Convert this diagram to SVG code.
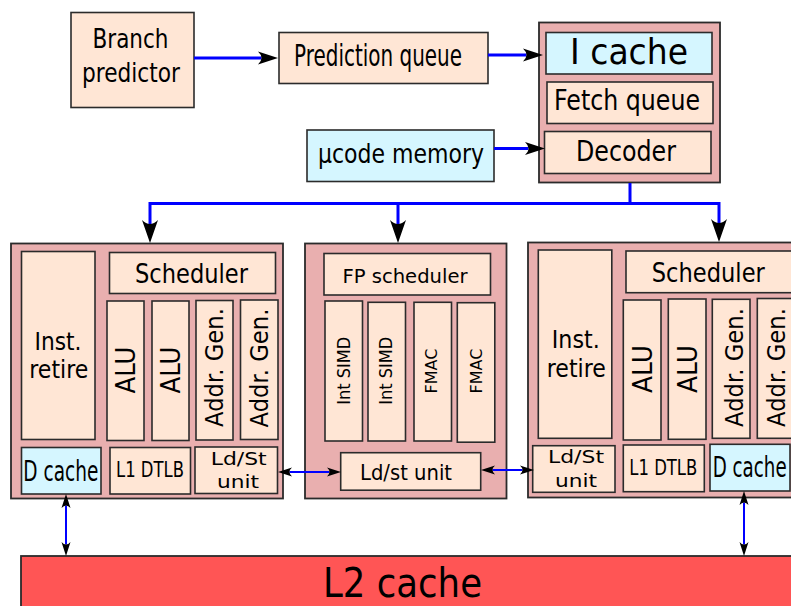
<svg xmlns="http://www.w3.org/2000/svg" width="791" height="606" viewBox="0 0 791 606">
<style>
text{font-family:"DejaVu Sans","Liberation Sans",sans-serif;fill:#000;text-anchor:middle}
.o{fill:#e9afaf;stroke:#2b2b2b;stroke-width:1.8}
.p{fill:#ffe6d5;stroke:#2b2b2b;stroke-width:1.6}
.c{fill:#d5f6ff;stroke:#2b2b2b;stroke-width:1.6}
.l2{fill:#ff5555;stroke:#2b2b2b;stroke-width:1.8}
.w{fill:none;stroke:#0000ff;stroke-width:3}
.t{fill:none;stroke:#0000ff;stroke-width:2}
</style>
<defs>
<marker id="ah" markerUnits="userSpaceOnUse" viewBox="0 -7 21 14" markerWidth="21" markerHeight="14" refX="3.5" refY="0" orient="auto" overflow="visible"><path d="M0,-6.5 L20,0 L0,6.5 Q7,0 0,-6.5 Z" fill="#000"/></marker>
<marker id="av" markerUnits="userSpaceOnUse" viewBox="0 -8 24 16" markerWidth="24" markerHeight="16" refX="4" refY="0" orient="auto" overflow="visible"><path d="M0,-8 L23,0 L0,8 Q8,0 0,-8 Z" fill="#000"/></marker>
<marker id="as" markerUnits="userSpaceOnUse" viewBox="0 -5 15 10" markerWidth="15" markerHeight="10" refX="2.5" refY="0" orient="auto-start-reverse" overflow="visible"><path d="M0,-4.5 L14,0 L0,4.5 Q5,0 0,-4.5 Z" fill="#000"/></marker>
</defs>

<g id="branch-predictor">
<rect class="p" x="71" y="12.5" width="123" height="95"/>
<text x="130.5" y="48" font-size="27" textLength="76" lengthAdjust="spacingAndGlyphs">Branch</text>
<text x="131" y="82" font-size="27" textLength="98" lengthAdjust="spacingAndGlyphs">predictor</text>
</g>
<g id="prediction-queue">
<rect class="p" x="279" y="32.5" width="209" height="51"/>
<text x="378" y="66" font-size="30" textLength="168" lengthAdjust="spacingAndGlyphs">Prediction queue</text>
</g>
<g id="ucode-memory">
<rect class="c" x="307" y="130" width="187" height="51.5"/>
<text x="401" y="163" font-size="27" textLength="166" lengthAdjust="spacingAndGlyphs">µcode memory</text>
</g>
<g id="frontend">
<rect class="o" x="539" y="22.5" width="181" height="160"/>
<g id="i-cache">
<rect class="c" x="546" y="32.5" width="166" height="41.5"/>
<text x="629" y="64" font-size="36" textLength="118" lengthAdjust="spacingAndGlyphs">I cache</text>
</g>
<g id="fetch-queue">
<rect class="p" x="547" y="82" width="166" height="41.5"/>
<text x="627" y="110" font-size="28" textLength="146" lengthAdjust="spacingAndGlyphs">Fetch queue</text>
</g>
<g id="decoder">
<rect class="p" x="544.5" y="131.5" width="166.5" height="42"/>
<text x="626" y="161" font-size="29" textLength="100" lengthAdjust="spacingAndGlyphs">Decoder</text>
</g>
</g>

<g id="int-cluster-left">
<rect class="o" x="11" y="243.5" width="272" height="255"/>
<g id="inst-retire-left"><rect class="p" x="21.5" y="251.5" width="73.5" height="188"/>
<text x="58" y="350" font-size="25" textLength="47" lengthAdjust="spacingAndGlyphs">Inst.</text>
<text x="58.8" y="378" font-size="25" textLength="59" lengthAdjust="spacingAndGlyphs">retire</text></g>
<g id="scheduler-left"><rect class="p" x="109.5" y="252.5" width="166" height="41"/>
<text x="191.5" y="283" font-size="27" textLength="113" lengthAdjust="spacingAndGlyphs">Scheduler</text></g>
<g id="alu1-left"><rect class="p" x="107" y="301" width="37" height="139.5"/>
<text transform="translate(135,370) rotate(-90)" font-size="27" textLength="47" lengthAdjust="spacingAndGlyphs">ALU</text></g>
<g id="alu2-left"><rect class="p" x="152" y="301" width="37" height="139.5"/>
<text transform="translate(180,370) rotate(-90)" font-size="27" textLength="47" lengthAdjust="spacingAndGlyphs">ALU</text></g>
<g id="agu1-left"><rect class="p" x="196" y="300.5" width="37" height="139.5"/>
<text transform="translate(223,367.5) rotate(-90)" font-size="25" textLength="119" lengthAdjust="spacingAndGlyphs">Addr. Gen.</text></g>
<g id="agu2-left"><rect class="p" x="240.5" y="300" width="37.5" height="139.5"/>
<text transform="translate(268,368) rotate(-90)" font-size="25" textLength="119" lengthAdjust="spacingAndGlyphs">Addr. Gen.</text></g>
<g id="dcache-left"><rect class="c" x="21.5" y="447.5" width="79.5" height="46.5"/>
<text x="60.8" y="480.5" font-size="28" textLength="75" lengthAdjust="spacingAndGlyphs">D cache</text></g>
<g id="dtlb-left"><rect class="p" x="110" y="447.5" width="80.5" height="46.5"/>
<text x="150" y="476.5" font-size="20.5" textLength="68" lengthAdjust="spacingAndGlyphs">L1 DTLB</text></g>
<g id="ldst-left"><rect class="p" x="195" y="447" width="82.5" height="46.5"/>
<text x="238.7" y="465" font-size="17" textLength="56" lengthAdjust="spacingAndGlyphs">Ld/St</text>
<text x="238" y="488.3" font-size="17" textLength="42" lengthAdjust="spacingAndGlyphs">unit</text></g>
</g>

<g id="fp-cluster">
<rect class="o" x="305" y="243.5" width="201.5" height="255"/>
<g id="fp-scheduler"><rect class="p" x="324" y="253.5" width="166.5" height="41.5"/>
<text x="405" y="282.7" font-size="20" textLength="125" lengthAdjust="spacingAndGlyphs">FP scheduler</text></g>
<g id="int-simd1"><rect class="p" x="325" y="301" width="37.5" height="140"/>
<text transform="translate(350,370.8) rotate(-90)" font-size="17" textLength="68" lengthAdjust="spacingAndGlyphs">Int SIMD</text></g>
<g id="int-simd2"><rect class="p" x="368" y="302.3" width="37.5" height="138.7"/>
<text transform="translate(391.7,370.8) rotate(-90)" font-size="17" textLength="68" lengthAdjust="spacingAndGlyphs">Int SIMD</text></g>
<g id="fmac1"><rect class="p" x="414" y="302.3" width="37.5" height="138.7"/>
<text transform="translate(436.7,371) rotate(-90)" font-size="16" textLength="45" lengthAdjust="spacingAndGlyphs">FMAC</text></g>
<g id="fmac2"><rect class="p" x="457.3" y="302.7" width="37.5" height="139.5"/>
<text transform="translate(481.7,371) rotate(-90)" font-size="16" textLength="45" lengthAdjust="spacingAndGlyphs">FMAC</text></g>
<g id="ldst-fp"><rect class="p" x="340.7" y="452.7" width="140" height="37.5"/>
<text x="406" y="480" font-size="22" textLength="92" lengthAdjust="spacingAndGlyphs">Ld/st unit</text></g>
</g>

<g id="int-cluster-right">
<rect class="o" x="528" y="242.5" width="280" height="255"/>
<g id="inst-retire-right"><rect class="p" x="538.3" y="250" width="73.5" height="188.3"/>
<text x="575.8" y="348.3" font-size="25" textLength="48" lengthAdjust="spacingAndGlyphs">Inst.</text>
<text x="576.3" y="376.7" font-size="25" textLength="59" lengthAdjust="spacingAndGlyphs">retire</text></g>
<g id="scheduler-right"><rect class="p" x="626" y="251" width="180" height="41.7"/>
<text x="708.3" y="281.7" font-size="27" textLength="113" lengthAdjust="spacingAndGlyphs">Scheduler</text></g>
<g id="alu1-right"><rect class="p" x="623.3" y="300" width="37.7" height="140"/>
<text transform="translate(651.7,369) rotate(-90)" font-size="27" textLength="48" lengthAdjust="spacingAndGlyphs">ALU</text></g>
<g id="alu2-right"><rect class="p" x="668.3" y="299" width="37.7" height="140.3"/>
<text transform="translate(696.7,369) rotate(-90)" font-size="27" textLength="48" lengthAdjust="spacingAndGlyphs">ALU</text></g>
<g id="agu1-right"><rect class="p" x="712.3" y="299.3" width="37.7" height="139"/>
<text transform="translate(742.7,367.5) rotate(-90)" font-size="25" textLength="119" lengthAdjust="spacingAndGlyphs">Addr. Gen.</text></g>
<g id="agu2-right"><rect class="p" x="757.3" y="298.5" width="37.7" height="139.8"/>
<text transform="translate(785,367.5) rotate(-90)" font-size="25" textLength="119" lengthAdjust="spacingAndGlyphs">Addr. Gen.</text></g>
<g id="ldst-right"><rect class="p" x="532.7" y="445.7" width="82.3" height="46.6"/>
<text x="576" y="463.3" font-size="17" textLength="56" lengthAdjust="spacingAndGlyphs">Ld/St</text>
<text x="576" y="486.7" font-size="17" textLength="42" lengthAdjust="spacingAndGlyphs">unit</text></g>
<g id="dtlb-right"><rect class="p" x="623.3" y="445" width="81" height="46.7"/>
<text x="663.3" y="475" font-size="20.5" textLength="68" lengthAdjust="spacingAndGlyphs">L1 DTLB</text></g>
<g id="dcache-right"><rect class="c" x="710" y="444.3" width="80" height="46.7"/>
<text x="749.7" y="476.7" font-size="28" textLength="74" lengthAdjust="spacingAndGlyphs">D cache</text></g>
</g>

<g id="l2-cache">
<rect class="l2" x="21" y="556" width="790" height="70"/>
<text x="402.5" y="597" font-size="40" textLength="159" lengthAdjust="spacingAndGlyphs">L2 cache</text>
</g>

<g id="connectors">
<path class="w" d="M194,58 H261.5" marker-end="url(#ah)"/>
<path class="w" d="M488,55 H526.5" marker-end="url(#ah)"/>
<path class="w" d="M494,148.5 H528.5" marker-end="url(#ah)"/>
<path class="w" d="M630,183 V203.5 M150,203.5 H719"/>
<path class="w" d="M150,202 V224" marker-end="url(#av)"/>
<path class="w" d="M398,203.5 V224" marker-end="url(#av)"/>
<path class="w" d="M719,202 V223" marker-end="url(#av)"/>
<path class="t" d="M289.5,472 H329.5" marker-start="url(#as)" marker-end="url(#as)"/>
<path class="t" d="M492.5,470 H522.5" marker-start="url(#as)" marker-end="url(#as)"/>
<path class="t" d="M66,505.5 V544.5" marker-start="url(#as)" marker-end="url(#as)"/>
<path class="t" d="M744,502.5 V544.5" marker-start="url(#as)" marker-end="url(#as)"/>
</g>
</svg>
